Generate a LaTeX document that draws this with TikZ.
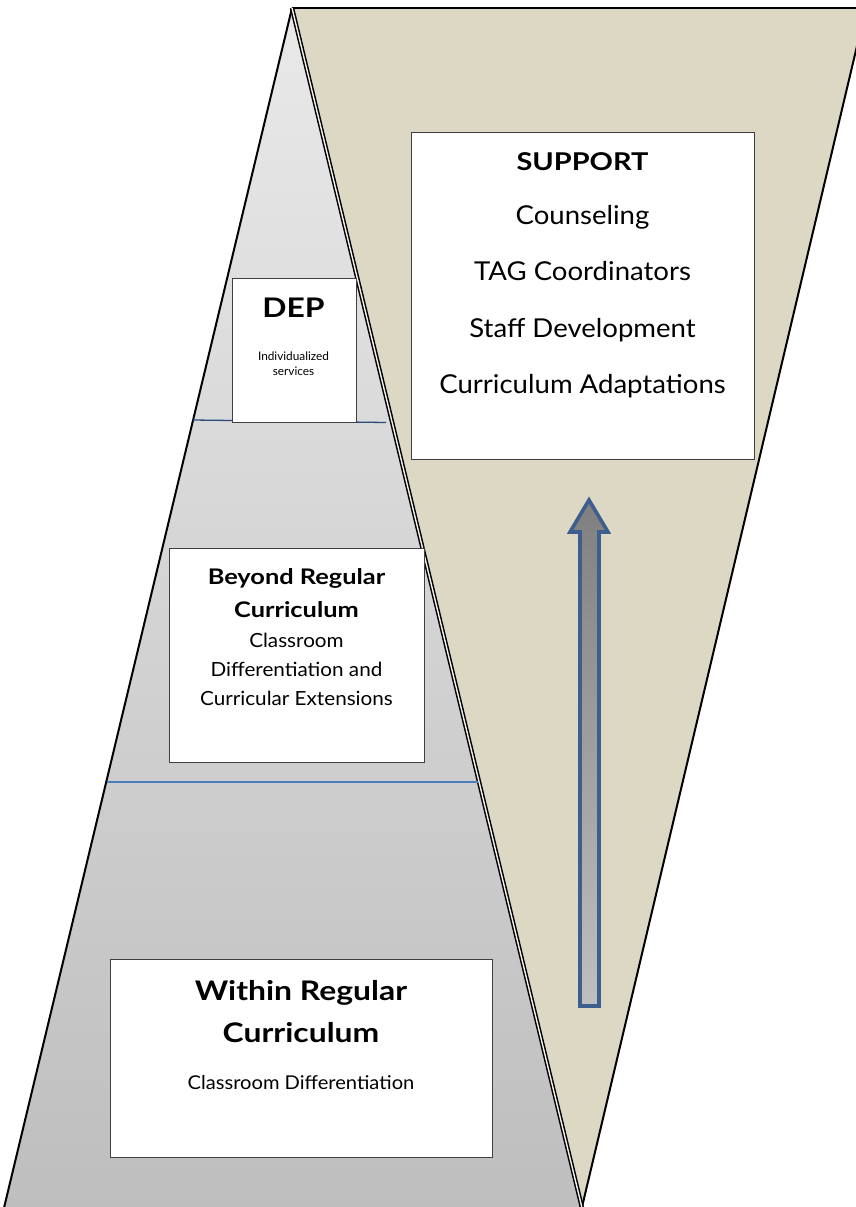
\documentclass[tikz,border=0pt]{standalone}
\usepackage{fontspec}
\setmainfont{Lato}
\newfontfamily\bwide[FakeStretch=1.18]{Lato}
\newfontfamily\rwide[FakeStretch=1.06]{Lato}
\definecolor{tan}{HTML}{DDD8C4}
\definecolor{gtop}{HTML}{E9E9E9}
\definecolor{gbot}{HTML}{BEBEBE}
\definecolor{lineblue}{HTML}{4A7EBB}
\definecolor{darkblue}{HTML}{2A4A78}
\definecolor{arrowblue}{HTML}{3C5F8F}
\tikzset{
  box/.style={draw=black!75, line width=0.9pt, fill=white, inner sep=0pt, outer sep=0pt},
  txt/.style={anchor=base, inner sep=0pt, outer sep=0pt, text=black},
  edge/.style={line width=2pt, draw=black},
}
\begin{document}
\begin{tikzpicture}[x=1pt,y=-1pt]
\useasboundingbox (0,0) rectangle (856,1207);
\clip (0,0) rectangle (856,1207);
% coordinates
\coordinate (apex) at (292,8);
\coordinate (bl) at (3,1212);
\coordinate (bm) at (582,1207);
\coordinate (tr) at (866,8);
% inverted triangle
\fill[tan] (apex) -- (tr) -- (bm) -- cycle;
\draw[edge, line width=2.4pt] (apex) -- (tr);
\draw[edge] (tr) -- (bm);
% pyramid
\shade[top color=gtop, bottom color=gbot] (apex) -- (bl) -- (583,1212) -- cycle;
\draw[edge] (apex) -- (bl);
% shared edge (double)
\draw[line width=1.5pt, double=gtop!60!white, double distance=1.4pt] (apex) -- (583,1212);
% level lines
\coordinate (l1a) at (193,420);
\coordinate (l1b) at (386,422.5);
\draw[darkblue, line width=1.3pt] (l1a) -- (l1b);
\coordinate (l2a) at (107,782);
\coordinate (l2b) at (478,782);
\draw[lineblue, line width=1.6pt] (l2a) -- (l2b);
% arrow
\shade[top color=black!50, bottom color=black!25, draw=arrowblue, line width=3.6pt, line join=miter]
  (589,500) -- (608,532) -- (599,532) -- (599,1006) -- (580,1006) -- (580,532) -- (570,532) -- cycle;
% boxes
\node[box, minimum width=343pt, minimum height=327pt] (support) at (582.5,295.5) {};
\node[box, minimum width=124pt, minimum height=144pt] (dep) at (294,350) {};
\node[box, minimum width=255pt, minimum height=214pt] (beyond) at (296.5,655) {};
\node[box, minimum width=382pt, minimum height=198pt] (within) at (301,1058) {};
% support texts
\node[txt, font=\fontsize{24.5}{24.5}\selectfont\bwide\bfseries] (s1) at (582.5,170) {SUPPORT};
\node[txt, font=\fontsize{26}{26}\selectfont\rwide] (s2) at (582.5,224) {Counseling};
\node[txt, font=\fontsize{26}{26}\selectfont\rwide] (s3) at (582.5,280) {TAG Coordinators};
\node[txt, font=\fontsize{26}{26}\selectfont\rwide] (s4) at (582.5,337) {Staff Development};
\node[txt, font=\fontsize{26}{26}\selectfont\rwide] (s5) at (582.5,393) {Curriculum Adaptations};
% dep texts
\node[txt, font=\fontsize{27}{27}\selectfont\bwide\bfseries] (d1) at (293.5,317) {DEP};
\node[txt, font=\fontsize{11.8}{11.8}\selectfont] (d2) at (293.5,360) {Individualized};
\node[txt, font=\fontsize{11.8}{11.8}\selectfont] (d3) at (293.5,375) {services};
% beyond texts
\node[txt, font=\fontsize{21.5}{21.5}\selectfont\bwide\bfseries] (b1) at (296.5,584) {Beyond Regular};
\node[txt, font=\fontsize{21.5}{21.5}\selectfont\bwide\bfseries] (b2) at (296.5,617) {Curriculum};
\node[txt, font=\fontsize{19.5}{19.5}\selectfont\rwide] (b3) at (296.5,647) {Classroom};
\node[txt, font=\fontsize{19.5}{19.5}\selectfont\rwide] (b4) at (296.5,676) {Differentiation and};
\node[txt, font=\fontsize{19.5}{19.5}\selectfont\rwide] (b5) at (296.5,705) {Curricular Extensions};
% within texts
\node[txt, font=\fontsize{27}{27}\selectfont\bwide\bfseries] (w1) at (301,1000) {Within Regular};
\node[txt, font=\fontsize{27}{27}\selectfont\bwide\bfseries] (w2) at (301,1042) {Curriculum};
\node[txt, font=\fontsize{19}{19}\selectfont\rwide] (w3) at (301,1089) {Classroom Differentiation};
\end{tikzpicture}
\end{document}
